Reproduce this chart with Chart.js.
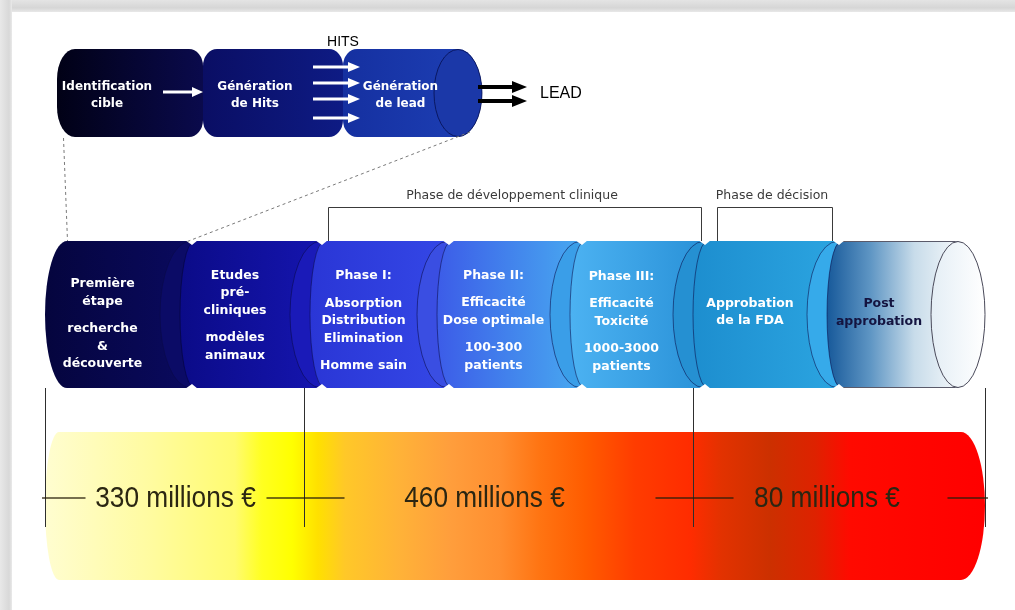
<!DOCTYPE html>
<html>
<head>
<meta charset="utf-8">
<script src="https://cdn.jsdelivr.net/npm/chart.js@4.4.1/dist/chart.umd.min.js"></script>
<style>
html,body{margin:0;padding:0;background:#fff;overflow:hidden}
#wrap{position:relative;width:1015px;height:610px}
canvas{display:block}
</style>
</head>
<body>
<div id="wrap"><canvas id="c" width="1015" height="610"></canvas></div>
<script>
// ---------------- DATA (timeline units) ----------------
const DISCOVERY_STEPS = ['Identification cible', 'Génération de Hits', 'Génération de lead'];
const DISCOVERY_BOUNDS = [57, 203, 343, 458];
const DISCOVERY_LABELS = [['Identification', 'cible'], ['Génération', 'de Hits'], ['Génération', 'de lead']];
const HITS_LABEL = 'HITS';
const LEAD_LABEL = 'LEAD';

const PIPELINE_STEPS = ['Première étape', 'Etudes pré-cliniques', 'Phase I', 'Phase II', 'Phase III', 'Approbation de la FDA', 'Post approbation'];
const PIPELINE_BOUNDS = [45, 190, 320, 447, 580, 703, 837, 958];
const PIPELINE_LABELS = [
  [['Première', 'étape'], ['recherche', '&', 'découverte']],
  [['Etudes', 'pré-', 'cliniques'], ['modèles', 'animaux']],
  [['Phase I:'], ['Absorption', 'Distribution', 'Elimination'], ['Homme sain']],
  [['Phase II:'], ['Efficacité', 'Dose optimale'], ['100-300', 'patients']],
  [['Phase III:'], ['Efficacité', 'Toxicité'], ['1000-3000', 'patients']],
  [['Approbation', 'de la FDA']],
  [['Post', 'approbation']]
];

const PHASE_GROUPS = ['Phase de développement clinique', 'Phase de décision'];
const PHASE_GROUP_START = [328, 717];
const PHASE_GROUP_END = [701, 832];

const COST_LABELS = ['330 millions €', '460 millions €', '80 millions €'];
const COST_MEUR = [330, 460, 80];
const COST_BOUNDS = [45, 304, 693, 985];

// ---------------- LAYOUT & STYLE ----------------
const W = 1015, H = 610;
const LAYOUT = {
  rows: { discovery: 93, pipeline: 314.5, cost: 506 },
  thickness: { discovery: 88, pipeline: 147, cost: 148 },
  pipeTextDy: [9.5, 1, 6.5, 6, 7, -2.5, -2],
  discTextDx: [-23, -18, 0],
  costTextDx: [1, -14, -12],
  faceRx: 30, leftRx: 14
};
const PIPE_STYLE = [
  { stops: ['#04043a', '#0a0a5e'], face: '#0b0b66' },
  { stops: ['#0b0b88', '#1515ae'], face: '#1a1ab8' },
  { stops: ['#2a36d6', '#3447e6'], face: '#3a4ee2' },
  { stops: ['#3c5ce8', '#48a8f0'], face: '#3a9ee8' },
  { stops: ['#4cb2f2', '#2a92d8'], face: '#2590d2' },
  { stops: ['#1d8ecf', '#2ba4e0'], face: '#36aaea' },
  { stops: ['#17599a', '#5f96c4', '#c8dcea', '#f3f7fa'], face: '#f7f9fb' }
];
const DISC_STYLE = [
  { stops: ['#010116', '#0a0a4c'] },
  { stops: ['#0a0e64', '#0e1b84'] },
  { stops: ['#1530a0', '#1c3db2'], face: '#1b38a8' }
];
const COST_STOPS = [
  [45, '#fffdd0'], [150, '#fffba0'], [235, '#fffb70'], [262, '#ffff20'], [292, '#ffff00'],
  [318, '#ffe000'], [345, '#ffc828'], [400, '#ffb238'], [450, '#ff9e3c'], [500, '#ff8e30'],
  [540, '#ff7412'], [585, '#ff5c00'], [635, '#ff3c00'], [690, '#ff2c00'], [722, '#e23200'],
  [770, '#cc3000'], [815, '#de2200'], [850, '#ff0a00'], [985, '#ff0000']
];

function spans(b) { return b.slice(0, -1).map((v, i) => [v, b[i + 1]]); }

// ---------------- HELPERS ----------------
function boxOf(el) {
  const p = el.getProps(['x', 'y', 'base', 'height'], true);
  const L = Math.min(p.x, p.base), R = Math.max(p.x, p.base);
  return { L, R, yc: p.y, h: p.height, T: p.y - p.height / 2, B: p.y + p.height / 2 };
}
function hGrad(ctx, x0, x1, stops) {
  const g = ctx.createLinearGradient(x0, 0, x1, 0);
  stops.forEach((c, i) => g.addColorStop(stops.length === 1 ? 0 : i / (stops.length - 1), c));
  return g;
}
function arrow(ctx, x0, x1, y, shaft, headLen, headHalf, color) {
  ctx.fillStyle = color;
  ctx.fillRect(x0, y - shaft / 2, x1 - headLen - x0 + 1, shaft);
  ctx.beginPath();
  ctx.moveTo(x1 - headLen, y - headHalf);
  ctx.lineTo(x1, y);
  ctx.lineTo(x1 - headLen, y + headHalf);
  ctx.closePath();
  ctx.fill();
}
function roundedSeg(ctx, L, R, T, B, lrx, lry, rrx, rry) {
  ctx.beginPath();
  ctx.moveTo(L + lrx, T);
  ctx.lineTo(R - rrx, T);
  ctx.ellipse(R - rrx, T + rry, rrx, rry, 0, -Math.PI / 2, 0);
  ctx.lineTo(R, B - rry);
  ctx.ellipse(R - rrx, B - rry, rrx, rry, 0, 0, Math.PI / 2);
  ctx.lineTo(L + lrx, B);
  ctx.ellipse(L + lrx, B - lry, lrx, lry, 0, Math.PI / 2, Math.PI);
  ctx.lineTo(L, T + lry);
  ctx.ellipse(L + lrx, T + lry, lrx, lry, 0, Math.PI, Math.PI * 1.5);
  ctx.closePath();
}
function textLines(ctx, groups, cx, cy, lh, gap) {
  let n = 0; groups.forEach(g => n += g.length);
  const total = (n - 1) * lh + (groups.length - 1) * gap;
  let y = cy - total / 2;
  groups.forEach((g, gi) => {
    g.forEach((line, li) => {
      ctx.fillText(line, cx, y);
      if (li < g.length - 1) y += lh;
    });
    if (gi < groups.length - 1) y += lh + gap;
  });
}

// ---------------- PLUGINS ----------------
const framePlugin = {
  id: 'frame',
  beforeDraw(chart) {
    const ctx = chart.ctx;
    ctx.save();
    ctx.fillStyle = '#ffffff';
    ctx.fillRect(0, 0, W, H);
    let g = ctx.createLinearGradient(0, 0, 0, 13);
    g.addColorStop(0, '#e4e4e4'); g.addColorStop(0.6, '#d6d6d6'); g.addColorStop(1, '#ececec');
    ctx.fillStyle = g; ctx.fillRect(0, 0, W, 12);
    g = ctx.createLinearGradient(0, 0, 13, 0);
    g.addColorStop(0, '#e8e8e8'); g.addColorStop(0.7, '#d8d8d8'); g.addColorStop(1, '#efefef');
    ctx.fillStyle = g; ctx.fillRect(0, 0, 12, H);
    ctx.restore();
  }
};

const diagramPlugin = {
  id: 'diagram',
  afterDatasetsDraw(chart) {
    const ctx = chart.ctx;
    const xs = chart.scales.x;
    ctx.save();

    // ---- cost bar ----
    const costEls = chart.getDatasetMeta(0).data.map(boxOf);
    const cL = costEls[0].L, cR = costEls[costEls.length - 1].R;
    const cT = costEls[0].T, cB = costEls[0].B, cY = costEls[0].yc, cRy = costEls[0].h / 2;
    const g = ctx.createLinearGradient(cL, 0, cR, 0);
    COST_STOPS.forEach(([v, c]) => g.addColorStop(Math.min(1, Math.max(0, (xs.getPixelForValue(v) - cL) / (cR - cL))), c));
    ctx.beginPath();
    ctx.moveTo(cL + 14, cT);
    ctx.lineTo(cR - 24, cT);
    ctx.ellipse(cR - 24, cY, 24, cRy, 0, -Math.PI / 2, Math.PI / 2);
    ctx.lineTo(cL + 14, cB);
    ctx.ellipse(cL + 14, cY, 14, cRy, 0, Math.PI / 2, Math.PI * 1.5);
    ctx.closePath();
    ctx.fillStyle = g; ctx.fill();

    // ---- pipeline ----
    const pipeEls = chart.getDatasetMeta(1).data.map(boxOf);
    const RF = LAYOUT.faceRx, LRX = LAYOUT.leftRx;
    pipeEls.forEach((b, i) => {
      const st = PIPE_STYLE[i];
      const ry = b.h / 2;
      const rxL = i === 0 ? 22 : LRX;
      const cxL = i === 0 ? b.L + 22 : b.L + 4;
      const last = i === pipeEls.length - 1;
      const rf = last ? 27 : RF;
      ctx.beginPath();
      ctx.moveTo(cxL, b.T);
      ctx.lineTo(b.R, b.T);
      ctx.ellipse(b.R, b.yc, rf, ry, 0, -Math.PI / 2, Math.PI / 2);
      ctx.lineTo(cxL, b.B);
      ctx.ellipse(cxL, b.yc, rxL, ry, 0, Math.PI / 2, Math.PI * 1.5);
      ctx.closePath();
      ctx.fillStyle = hGrad(ctx, b.L - rxL + 4, b.R, st.stops);
      ctx.fill();
      if (last) {
        ctx.strokeStyle = '#5a5a6a'; ctx.lineWidth = 1;
        ctx.beginPath(); ctx.moveTo(cxL, b.T + 0.5); ctx.lineTo(b.R, b.T + 0.5); ctx.stroke();
        ctx.beginPath(); ctx.moveTo(cxL, b.B - 0.5); ctx.lineTo(b.R, b.B - 0.5); ctx.stroke();
      }
      if (i > 0) {
        ctx.beginPath();
        ctx.ellipse(cxL, b.yc, rxL, ry - 0.5, 0, Math.PI / 2, Math.PI * 1.5);
        ctx.strokeStyle = i === 1 ? 'rgba(0,0,30,0.45)' : 'rgba(10,10,70,0.55)';
        ctx.lineWidth = 1; ctx.stroke();
      }
      // end face
      ctx.beginPath();
      ctx.ellipse(b.R, b.yc, rf, ry - 0.5, 0, 0, Math.PI * 2);
      if (last) {
        const fg = ctx.createLinearGradient(b.R - rf, 0, b.R + rf, 0);
        fg.addColorStop(0, '#e4eef5'); fg.addColorStop(1, '#ffffff');
        ctx.fillStyle = fg;
      } else ctx.fillStyle = st.face;
      ctx.fill();
      ctx.strokeStyle = last ? '#4a4a5a' : 'rgba(10,10,70,0.55)';
      ctx.lineWidth = 1; ctx.stroke();
    });
    // notches at joints
    ctx.fillStyle = '#ffffff';
    pipeEls.forEach((b, i) => {
      if (i === 0) return;
      const X = b.L;
      ctx.beginPath(); ctx.moveTo(X - 5, b.T - 1); ctx.lineTo(X + 8, b.T - 1); ctx.lineTo(X + 2, b.T + 4); ctx.closePath(); ctx.fill();
      ctx.beginPath(); ctx.moveTo(X - 5, b.B + 1); ctx.lineTo(X + 8, b.B + 1); ctx.lineTo(X + 2, b.B - 4); ctx.closePath(); ctx.fill();
    });

    // ---- discovery (top) ----
    const discEls = chart.getDatasetMeta(2).data.map(boxOf);
    discEls.forEach((b, i) => {
      const st = DISC_STYLE[i];
      const last = i === discEls.length - 1;
      const lrx = i === 0 ? 18 : 14, lry = i === 0 ? 30 : 17;
      ctx.fillStyle = hGrad(ctx, b.L, b.R, st.stops);
      if (!last) {
        roundedSeg(ctx, b.L, b.R, b.T, b.B, lrx, lry, 14, 17);
        ctx.fill();
      } else {
        const ry = b.h / 2, rf = 24;
        ctx.beginPath();
        ctx.moveTo(b.L + lrx, b.T);
        ctx.lineTo(b.R, b.T);
        ctx.ellipse(b.R, b.yc, rf, ry, 0, -Math.PI / 2, Math.PI / 2);
        ctx.lineTo(b.L + lrx, b.B);
        ctx.ellipse(b.L + lrx, b.B - lry, lrx, lry, 0, Math.PI / 2, Math.PI);
        ctx.lineTo(b.L, b.T + lry);
        ctx.ellipse(b.L + lrx, b.T + lry, lrx, lry, 0, Math.PI, Math.PI * 1.5);
        ctx.closePath();
        ctx.fill();
        ctx.beginPath();
        ctx.ellipse(b.R, b.yc, rf, ry - 0.5, 0, 0, Math.PI * 2);
        ctx.fillStyle = st.face; ctx.fill();
        ctx.strokeStyle = 'rgba(5,15,80,0.8)'; ctx.lineWidth = 1; ctx.stroke();
      }
    });

    // ---- dashed zoom lines ----
    const d0 = discEls[0], dN = discEls[discEls.length - 1], p0 = pipeEls[0];
    ctx.setLineDash([3, 3]);
    ctx.strokeStyle = '#7a7a7a'; ctx.lineWidth = 1;
    ctx.beginPath(); ctx.moveTo(d0.L + 6.5, d0.B + 1); ctx.lineTo(p0.L + 22.5, p0.T); ctx.stroke();
    ctx.beginPath(); ctx.moveTo(dN.R + 12, dN.B - 5); ctx.lineTo(p0.R - 4, p0.T + 1); ctx.stroke();
    ctx.setLineDash([]);

    // ---- white arrows in discovery row ----
    const dy = d0.yc;
    arrow(ctx, 163, 203, dy - 1, 3, 11, 5, '#ffffff');
    [-26, -10, 6, 25].forEach(o => arrow(ctx, 313, 360, dy + o, 3, 12, 5, '#ffffff'));
    // black arrows to LEAD
    [-6, 8].forEach(o => arrow(ctx, dN.R + 20, dN.R + 69, dy + o, 4, 15, 6, '#000000'));

    // ---- discovery texts ----
    ctx.textAlign = 'center'; ctx.textBaseline = 'middle';
    ctx.fillStyle = '#ffffff';
    ctx.font = 'bold 12px "DejaVu Sans"';
    discEls.forEach((b, i) => {
      const cx = (b.L + b.R) / 2 + LAYOUT.discTextDx[i];
      textLines(ctx, [DISCOVERY_LABELS[i]], cx, b.yc + 2.5, 17, 0);
    });
    ctx.fillStyle = '#000000';
    ctx.font = '14px "Liberation Sans"';
    ctx.fillText(HITS_LABEL, xs.getPixelForValue(DISCOVERY_BOUNDS[2]), d0.T - 7);
    ctx.font = '16px "Liberation Sans"';
    ctx.textAlign = 'left';
    ctx.fillText(LEAD_LABEL, dN.R + 82, dy + 0.5);

    // ---- pipeline texts ----
    ctx.textAlign = 'center';
    ctx.font = 'bold 12.5px "DejaVu Sans"';
    pipeEls.forEach((b, i) => {
      const leftVis = i === 0 ? b.L : b.L - 10;
      const rf = i === pipeEls.length - 1 ? 27 : RF;
      const cx = (leftVis + b.R - rf) / 2;
      ctx.fillStyle = i === pipeEls.length - 1 ? '#141440' : '#ffffff';
      textLines(ctx, PIPELINE_LABELS[i], cx, b.yc + LAYOUT.pipeTextDy[i], 17.5, 10);
    });

    // ---- phase brackets ----
    ctx.strokeStyle = '#3a3a3a'; ctx.lineWidth = 1;
    ctx.font = '12.5px "DejaVu Sans"'; ctx.fillStyle = '#3a3a3a';
    PHASE_GROUPS.forEach((name, i) => {
      const a = Math.round(xs.getPixelForValue(PHASE_GROUP_START[i])) + 0.5;
      const z = Math.round(xs.getPixelForValue(PHASE_GROUP_END[i])) + 0.5;
      const top = p0.T - 33.5;
      ctx.beginPath();
      ctx.moveTo(a, p0.T); ctx.lineTo(a, top); ctx.lineTo(z, top); ctx.lineTo(z, p0.T);
      ctx.stroke();
      ctx.fillText(name, (a + z) / 2 - 3, top - 12);
    });

    // ---- cost boundary markers ----
    const lineTop = p0.B, lineBot = cB - 53;
    COST_BOUNDS.forEach((v, i) => {
      const x = Math.round(xs.getPixelForValue(v)) + 0.5;
      ctx.strokeStyle = '#2e2e2e'; ctx.lineWidth = 1;
      ctx.beginPath(); ctx.moveTo(x, lineTop); ctx.lineTo(x, lineBot); ctx.stroke();
      const x0 = Math.max(cL - 3, x - 38), x1 = Math.min(cR + 3, x + 40);
      ctx.strokeStyle = 'rgba(40,30,10,0.85)'; ctx.lineWidth = 1.6;
      ctx.beginPath(); ctx.moveTo(x0, cY - 8); ctx.lineTo(x1, cY - 8); ctx.stroke();
    });
    // ---- cost labels ----
    costEls.forEach((b, i) => {
      const cx = (b.L + b.R) / 2 + LAYOUT.costTextDx[i];
      ctx.save();
      ctx.translate(cx, cY - 8);
      ctx.scale(0.875, 1);
      ctx.font = '30px "Liberation Sans"';
      ctx.fillStyle = '#2b2612';
      ctx.textAlign = 'center'; ctx.textBaseline = 'middle';
      ctx.fillText(COST_LABELS[i], 0, 1);
      ctx.restore();
    });
    ctx.restore();
  }
};

// ---------------- CHART ----------------
const rows = LAYOUT.rows, th = LAYOUT.thickness;
const clear = 'rgba(0,0,0,0)';
new Chart(document.getElementById('c'), {
  type: 'bar',
  data: {
    datasets: [
      { label: 'Coût (M€)', data: spans(COST_BOUNDS).map(s => ({ x: s, y: rows.cost })), barThickness: th.cost, grouped: false, backgroundColor: clear, borderColor: clear, borderWidth: 0, meur: COST_MEUR },
      { label: 'Développement', data: spans(PIPELINE_BOUNDS).map(s => ({ x: s, y: rows.pipeline })), barThickness: th.pipeline, grouped: false, backgroundColor: clear, borderColor: clear, borderWidth: 0, steps: PIPELINE_STEPS },
      { label: 'Découverte', data: spans(DISCOVERY_BOUNDS).map(s => ({ x: s, y: rows.discovery })), barThickness: th.discovery, grouped: false, backgroundColor: clear, borderColor: clear, borderWidth: 0, steps: DISCOVERY_STEPS }
    ]
  },
  options: {
    indexAxis: 'y',
    responsive: false,
    animation: false,
    events: [],
    layout: { padding: 0 },
    scales: {
      x: { type: 'linear', min: 0, max: W, display: false, offset: false, grace: 0 },
      y: { type: 'linear', min: 0, max: H, reverse: true, display: false, offset: false, grace: 0 }
    },
    plugins: { legend: { display: false }, tooltip: { enabled: false }, colors: { enabled: false } }
  },
  plugins: [framePlugin, diagramPlugin]
});
</script>
</body>
</html>
